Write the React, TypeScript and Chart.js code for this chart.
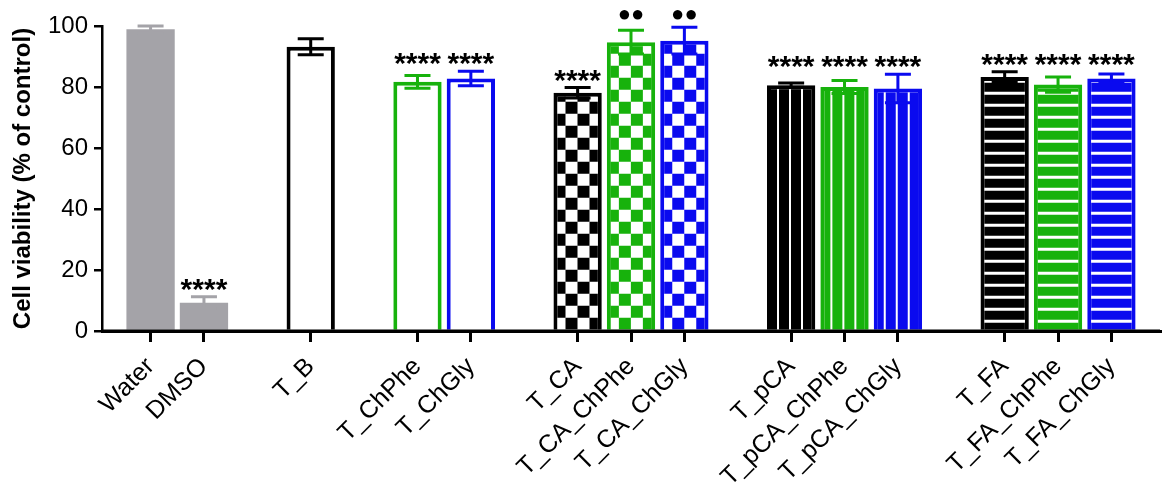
import { useEffect, useRef } from "react";
import { Chart, registerables } from "chart.js";

Chart.register(...registerables);

// categories on the x axis ('' = empty slot between groups)
const categories = [
  "Water", "DMSO", "",
  "T_B", "",
  "T_ChPhe", "T_ChGly", "",
  "T_CA", "T_CA_ChPhe", "T_CA_ChGly", "",
  "T_pCA", "T_pCA_ChPhe", "T_pCA_ChGly", "",
  "T_FA", "T_FA_ChPhe", "T_FA_ChGly",
];
// cell viability, % of control (mean)
const means = [
  98.9, 9.3, null,
  93.2, null,
  81.7, 82.8, null,
  78.1, 94.7, 95.2, null,
  80.6, 80.0, 79.5, null,
  83.3, 80.8, 82.8,
];
// error (SEM)
const sems = [
  1.1, 1.9, null,
  2.6, null,
  2.1, 2.4, null,
  1.7, 3.9, 4.4, null,
  0.7, 2.1, 4.7, null,
  1.7, 2.5, 1.5,
];
// significance marks above bars
const marks = [
  "", "****", "",
  "", "",
  "****", "****", "",
  "****", "●●", "●●", "",
  "****", "****", "****", "",
  "****", "****", "****",
];
const yTicks = [0, 20, 40, 60, 80, 100];

const GRAY = "#a4a3a8";
const BLACK = "#000000";
const GREEN = "#17b20c";
const BLUE = "#0a0aef";
const barColors = [
  GRAY, GRAY, BLACK,
  BLACK, BLACK,
  GREEN, BLUE, BLACK,
  BLACK, GREEN, BLUE, BLACK,
  BLACK, GREEN, BLUE, BLACK,
  BLACK, GREEN, BLUE,
];
const barFills = [
  "solid", "solid", "",
  "open", "",
  "open", "open", "",
  "checker", "checker", "checker", "",
  "vstripe", "vstripe", "vstripe", "",
  "hstripe", "hstripe", "hstripe",
];

const FONT = "'Liberation Sans', Arial, sans-serif";

function makeFill(kind: string, color: string): CanvasPattern | string {
  if (kind === "solid") return color;
  if (kind === "open" || kind === "") return "#ffffff";
  const size = kind === "checker" ? 24 : 12;
  const tile = document.createElement("canvas");
  tile.width = size;
  tile.height = size;
  const g = tile.getContext("2d")!;
  g.fillStyle = "#ffffff";
  g.fillRect(0, 0, size, size);
  g.fillStyle = color;
  if (kind === "checker") {
    g.fillRect(0, 0, 12, 12);
    g.fillRect(12, 12, 12, 12);
  } else if (kind === "vstripe") {
    g.fillRect(0, 0, 10, 12);
  } else {
    g.fillRect(0, 0, 12, 2);
    g.fillRect(0, 5, 12, 7);
  }
  return g.createPattern(tile, "repeat")!;
}

export default function App() {
  const canvasRef = useRef<HTMLCanvasElement | null>(null);

  useEffect(() => {
    const canvas = canvasRef.current;
    if (!canvas) return;

    const fills = barFills.map((k, i) => makeFill(k, barColors[i]));

    const patternAnchor = {
      id: "patternAnchor",
      beforeDatasetsDraw(chart: any) {
        const meta = chart.getDatasetMeta(0);
        meta.data.forEach((bar: any, i: number) => {
          const f = fills[i];
          if (f && typeof f !== "string") {
            f.setTransform(new DOMMatrix().translate(bar.x - bar.width / 2, bar.base));
          }
        });
      },
    };

    const errorBars = {
      id: "errorBars",
      afterDatasetsDraw(chart: any) {
        const ctx = chart.ctx;
        const y = chart.scales.y;
        const area = chart.chartArea;
        const meta = chart.getDatasetMeta(0);
        ctx.save();

        // x axis line again, on top of the bar bottoms
        ctx.strokeStyle = BLACK;
        ctx.lineWidth = 3;
        ctx.beginPath();
        ctx.moveTo(area.left, area.bottom);
        ctx.lineTo(area.right, area.bottom);
        ctx.stroke();

        meta.data.forEach((bar: any, i: number) => {
          const m = means[i];
          const s = sems[i];
          if (m == null || s == null) return;
          const top = y.getPixelForValue(m + s);
          const bot = y.getPixelForValue(m - s);
          const cx = bar.x;
          ctx.strokeStyle = barColors[i];
          ctx.beginPath();
          ctx.moveTo(cx, top);
          ctx.lineTo(cx, bot);
          ctx.moveTo(cx - 13, top);
          ctx.lineTo(cx + 13, top);
          ctx.moveTo(cx - 13, bot);
          ctx.lineTo(cx + 13, bot);
          ctx.stroke();
        });

        // significance marks, one height per run of equal marks
        ctx.fillStyle = "#000";
        ctx.textAlign = "center";
        let i = 0;
        while (i < marks.length) {
          if (!marks[i]) {
            i++;
            continue;
          }
          let j = i;
          while (j + 1 < marks.length && marks[j + 1] === marks[i]) j++;
          let capTop = Infinity;
          for (let k = i; k <= j; k++) {
            capTop = Math.min(capTop, y.getPixelForValue((means[k] as number) + (sems[k] as number)));
          }
          for (let k = i; k <= j; k++) {
            const bar = meta.data[k];
            if (marks[k].includes("*")) {
              ctx.font = `bold 30px ${FONT}`;
              ctx.textBaseline = "alphabetic";
              ctx.fillText(marks[k], bar.x, capTop + 2);
            } else {
              ctx.font = `22px ${FONT}`;
              ctx.textBaseline = "middle";
              ctx.fillText(marks[k], bar.x, capTop - 12);
            }
          }
          i = j + 1;
        }
        ctx.restore();
      },
    };

    const chart = new Chart(canvas, {
      type: "bar",
      data: {
        datasets: [
          {
            data: means.map((v, i) => ({ x: i, y: v })) as any,
            backgroundColor: fills as any,
            borderColor: barColors,
            borderWidth: barFills.map((k) => (k === "solid" ? 0 : 4)),
            borderSkipped: "bottom",
            barPercentage: 0.905,
            categoryPercentage: 1,
          },
        ],
      },
      options: {
        animation: false,
        responsive: true,
        maintainAspectRatio: false,
        layout: { padding: { top: 26, right: 11, left: 0, bottom: 0 } },
        plugins: {
          legend: { display: false },
          tooltip: { enabled: false },
        },
        scales: {
          x: {
            type: "linear",
            min: -0.91,
            max: 18.91,
            offset: false,
            afterBuildTicks: (scale: any) => {
              scale.ticks = categories.map((_, i) => ({ value: i }));
            },
            afterFit: (scale: any) => {
              scale.height = 160;
            },
            grid: {
              offset: false,
              drawOnChartArea: false,
              drawTicks: true,
              tickLength: 11,
              lineWidth: 3,
              color: (c: any) => (categories[c.index] ? BLACK : "rgba(0,0,0,0)"),
            },
            border: { color: BLACK, width: 3 },
            ticks: {
              autoSkip: false,
              minRotation: 45,
              maxRotation: 45,
              padding: 10,
              color: BLACK,
              font: { family: FONT, size: 25 },
              callback: (_v: any, i: number) => categories[i],
            },
          },
          y: {
            min: 0,
            max: 100,
            afterBuildTicks: (scale: any) => {
              scale.ticks = yTicks.map((v) => ({ value: v }));
            },
            afterFit: (scale: any) => {
              scale.width = 102;
            },
            grid: {
              drawOnChartArea: false,
              drawTicks: true,
              tickLength: 8,
              lineWidth: 2.5,
              color: BLACK,
            },
            border: { color: BLACK, width: 2.5 },
            ticks: {
              padding: 6,
              color: BLACK,
              font: { family: FONT, size: 24 },
            },
            title: {
              display: true,
              text: "Cell viability (% of control)",
              color: BLACK,
              font: { family: FONT, size: 24, weight: "bold" },
              padding: { top: 9, bottom: 0 },
            },
          },
        },
      },
      plugins: [patternAnchor, errorBars],
    });

    return () => {
      chart.destroy();
    };
  }, []);

  return (
    <div style={{ position: "fixed", left: 0, top: 0, width: 1171, height: 491, background: "#fff" }}>
      <canvas ref={canvasRef}></canvas>
    </div>
  );
}
